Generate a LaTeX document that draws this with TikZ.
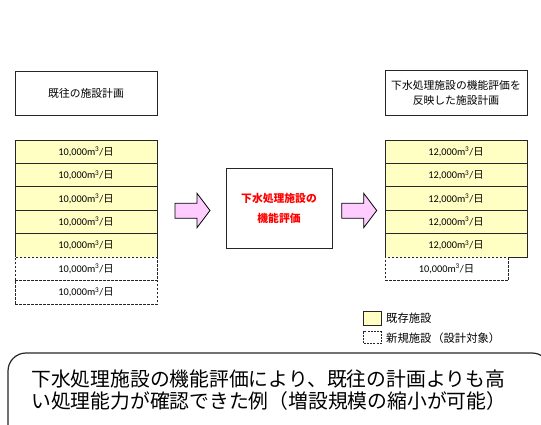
\documentclass[tikz,border=0pt]{standalone}
\usepackage{fontspec}
\setmainfont{Carlito}
\newfontfamily\jp{Noto Sans CJK JP}
\definecolor{boxyellow}{HTML}{FFFFC4}
\definecolor{arrowpink}{HTML}{FFCCFF}
\definecolor{framegray}{HTML}{262626}
\newcommand\myrate[1]{#1,000m\textsuperscript{3}/{\jp 日}}
\begin{document}
\begin{tikzpicture}[x=1pt,y=-1pt,
  titlebox/.style={draw=framegray, line width=0.8pt, fill=white, minimum width=142pt, minimum height=44pt, inner sep=0pt, align=center, font=\jp\fontsize{10.8}{15}\selectfont},
  cell/.style={draw=framegray, line width=0.8pt, fill=boxyellow, minimum width=142pt, minimum height=23.43pt, inner sep=0pt, font=\fontsize{10.3}{12}\selectfont},
  newcell/.style={cell, fill=white, dash pattern=on 2.5pt off 1.5pt},
  bigarrow/.style={draw=black, line width=0.8pt, fill=arrowpink},
  midbox/.style={draw=framegray, line width=1pt, fill=white, minimum width=106pt, minimum height=79pt, inner sep=0pt, align=center, text=red, font=\jp\bfseries\fontsize{10.8}{20}\selectfont},
  legtext/.style={anchor=west, inner sep=0pt, font=\jp\fontsize{11.3}{13}\selectfont},
  summary/.style={draw=framegray, line width=1.2pt, rounded corners=18pt},
  summarytext/.style={anchor=west, inner sep=0pt, align=left, font=\jp\fontsize{19.8}{22.5}\selectfont}
]
\useasboundingbox (0,0) rectangle (541,425);

% titles
\node[titlebox] (ltitle) at (86,93) {既往の施設計画};
\node[titlebox, minimum height=45pt] (rtitle) at (456,92.5) {下水処理施設の機能評価を\\反映した施設計画};

% left stack
\foreach \i in {0,...,4} {
  \node[cell] (l\i) at (86,{140+23.43*(\i+0.5)}) {\myrate{10}};
}
\foreach \i in {5,6} {
  \node[newcell] (l\i) at (86,{140+23.43*(\i+0.5)}) {\myrate{10}};
}

% right stack
\foreach \i in {0,...,4} {
  \node[cell] (r\i) at (456,{140+23.43*(\i+0.5)}) {\myrate{12}};
}
\node[newcell, minimum width=123pt] (r5) at (446.5,{140+23.43*5.5}) {\myrate{10}};

% middle box
\node[midbox] (mid) at (279,208.5) {下水処理施設の\\機能評価};

% arrows
\foreach \s/\n in {0/a1,166.7/a2} {
  \begin{scope}[shift={(\s,0)}]
    \draw[bigarrow] (175,203.3) -- (197,203.3) -- (197,193.3) -- (210,210.5) -- (197,227.7) -- (197,218.3) -- (175,218.3) -- cycle;
  \end{scope}
}

% legend
\draw[draw=framegray, line width=0.8pt, fill=boxyellow] (363,311.7) rectangle (381.5,325);
\draw[draw=framegray, line width=0.8pt, dash pattern=on 2pt off 1.2pt] (363,331.5) rectangle (381.5,343.5);
\node[legtext] (leg1) at (386,318.3) {既存施設};
\node[legtext] (leg2) at (386,337.8) {新規施設\hspace{1pt}（設計対象）};

% summary
\draw[summary] (8,353) rectangle (550,445);
\node[summarytext] (sum) at (31,390) {下水処理施設の機能評価により、既往の計画よりも高\\い処理能力が確認できた例（増設規模の縮小が可能）};
\end{tikzpicture}
\end{document}
